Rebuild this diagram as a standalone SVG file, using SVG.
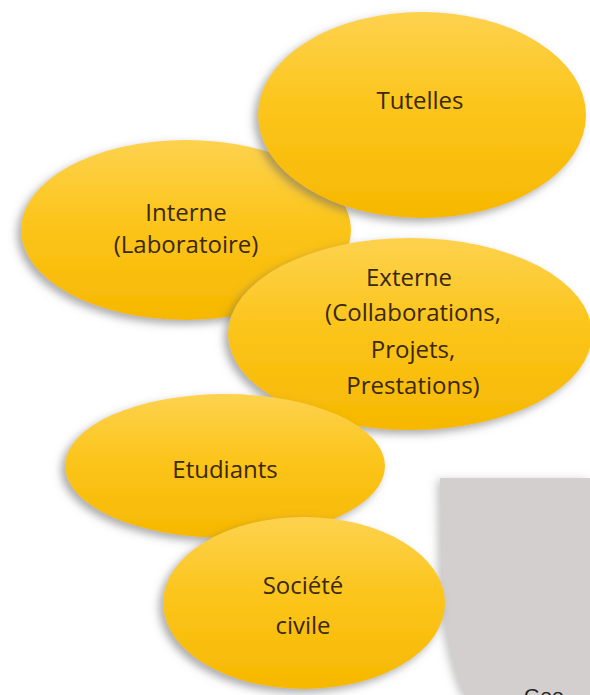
<svg xmlns="http://www.w3.org/2000/svg" width="590" height="695" viewBox="0 0 590 695">
<defs>
<linearGradient id="gold" x1="0" y1="0" x2="0" y2="1">
<stop offset="0" stop-color="#fdd24e"/>
<stop offset="0.45" stop-color="#fcc51c"/>
<stop offset="1" stop-color="#f6b800"/>
</linearGradient>
<filter id="sh" x="-20%" y="-20%" width="140%" height="140%">
<feDropShadow dx="-4" dy="4" stdDeviation="4" flood-color="#666" flood-opacity="0.55"/>
</filter>
<filter id="shg" x="-20%" y="-20%" width="140%" height="140%">
<feDropShadow dx="-3" dy="2" stdDeviation="4" flood-color="#888" flood-opacity="0.5"/>
</filter>
<style>
.ell{fill:url(#gold);filter:url(#sh)}
.t{font-family:"Open Sans","Noto Sans",sans-serif;fill:#3a2808;text-anchor:middle;font-size:24px}
</style>
</defs>
<rect width="590" height="695" fill="#ffffff"/>
<g id="connectors"/>
<g id="panel">
<path d="M440 478 L590 478 L590 695 L464 695 Q446 650 441 590 Z" fill="#d3cfcf" filter="url(#shg)"/>
<text x="524" y="703" font-family="Liberation Sans, sans-serif" font-size="21" fill="#222">Geo</text>
</g>
<g id="interne">
<ellipse class="ell" cx="186" cy="230" rx="165" ry="90"/>
<text class="t" x="186" y="221">Interne</text>
<text class="t" x="186" y="253">(Laboratoire)</text>
</g>
<g id="tutelles">
<ellipse class="ell" cx="422" cy="115" rx="164" ry="103"/>
<text class="t" x="420" y="109">Tutelles</text>
</g>
<g id="externe">
<ellipse class="ell" cx="410" cy="334" rx="182" ry="96"/>
<text class="t" x="409" y="286">Externe</text>
<text class="t" x="413" y="321">(Collaborations,</text>
<text class="t" x="413" y="358">Projets,</text>
<text class="t" x="413" y="394">Prestations)</text>
</g>
<g id="etudiants">
<ellipse class="ell" cx="225" cy="466" rx="160" ry="72"/>
<text class="t" x="225" y="478">Etudiants</text>
</g>
<g id="societe">
<ellipse class="ell" cx="304" cy="603" rx="141" ry="86"/>
<text class="t" x="303" y="594">Société</text>
<text class="t" x="303" y="634">civile</text>
</g>
</svg>
